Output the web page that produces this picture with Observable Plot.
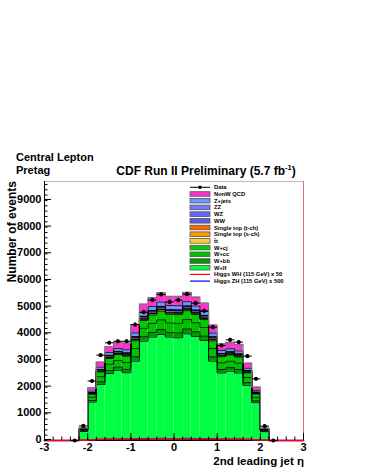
<!DOCTYPE html>
<html><head><meta charset="utf-8">
<script src="https://cdn.jsdelivr.net/npm/d3@7"></script>
<script src="https://cdn.jsdelivr.net/npm/@observablehq/plot@0.6"></script>
<style>body{margin:0;background:#fff} svg{display:block;overflow:visible}</style>
</head><body><div id="chart"></div>
<script>
// ---- data ----
const binCenters = [-2.1,-1.9,-1.7,-1.5,-1.3,-1.1,-0.9,-0.7,-0.5,-0.3,-0.1,0.1,0.3,0.5,0.7,0.9,1.1,1.3,1.5,1.7,1.9,2.1];
const binWidth = 0.2;
const histRange = [-3, 3];

const wlf   = [340,1440,2100,2510,2630,2540,2975,3725,3875,3975,3875,3850,4000,3900,3750,2975,2530,2600,2530,2070,1420,330];
const wbb   = [16,64,101,122,127,133,164,166,178,188,183,186,186,177,168,163,131,130,128,100,70,16];
const wcc   = [30,123,193,233,244,255,314,319,342,360,351,357,357,339,322,312,251,248,246,191,133,31];
const wcj   = [27,112,176,213,223,233,287,291,312,329,320,326,326,310,294,285,229,227,225,174,122,28];
const ttbar = [4,16,25,30,32,33,41,42,45,47,46,47,47,44,42,41,33,32,32,25,17,4];
const stopS = [1,4,6,7,7,8,10,10,10,11,11,11,11,10,10,9,8,8,7,6,4,1];
const stopT = [2,7,11,13,14,14,18,18,19,20,20,20,20,19,18,18,14,14,14,11,8,2];
const ww    = [6,24,38,46,48,50,61,62,67,70,69,70,70,66,63,61,49,49,48,37,26,6];
const wz    = [2,8,13,15,16,17,20,21,22,23,23,23,23,22,21,20,16,16,16,12,9,2];
const zz    = [1,3,4,5,5,6,7,7,7,8,8,8,8,7,7,7,5,5,5,4,3,1];
const zjets = [13,54,84,102,106,111,137,139,149,157,153,155,155,148,140,136,109,108,107,83,58,14];
const qcd   = [28,120,189,229,238,250,306,310,334,352,341,347,347,333,315,303,245,243,242,187,130,30];

const wh50  = [8,30,45,52,55,55,62,68,70,72,70,70,72,70,68,62,55,55,52,45,30,8];
const zh500 = [6,22,33,38,40,40,45,50,52,54,52,52,54,52,50,45,40,40,38,33,22,6];

const dataX = [-2.3,-2.1,-1.9,-1.7,-1.5,-1.3,-1.1,-0.9,-0.7,-0.5,-0.3,-0.1,0.1,0.3,0.5,0.7,0.9,1.1,1.3,1.5,1.7,1.9,2.1,2.3];
const dataY = [0,545,2230,3200,3662,3720,3720,4345,4812,5265,5475,5195,5262,5487,5150,4862,4250,3562,3775,3687,3162,2312,537,0];

const yTicks = [0,1000,2000,3000,4000,5000,6000,7000,8000,9000];
const yMinorTicks = d3.range(0, 9701, 200);
const xTicks = [-3,-2,-1,0,1,2,3];
const xMinorTicks = d3.range(-30, 31, 2).map(d => d / 10);

// stack order bottom -> top
const stackSeries = [
  {name: "W+lf", values: wlf, color: "#00ff44"},
  {name: "W+bb", values: wbb, color: "#009900"},
  {name: "W+cc", values: wcc, color: "#00c000"},
  {name: "W+cj", values: wcj, color: "#00cc00"},
  {name: "t\u0304t", values: ttbar, color: "#ffcc33"},
  {name: "Single top (s-ch)", values: stopS, color: "#ff9900"},
  {name: "Single top (t-ch)", values: stopT, color: "#ff6600"},
  {name: "WW", values: ww, color: "#5a5af0"},
  {name: "WZ", values: wz, color: "#6666ff"},
  {name: "ZZ", values: zz, color: "#7777ff"},
  {name: "Z+jets", values: zjets, color: "#6699ff"},
  {name: "NonW QCD", values: qcd, color: "#ff33cc"}
];
const higgsSeries = [
  {name: "Higgs WH (115 GeV) x 50", values: wh50, color: "#ff0000"},
  {name: "Higgs ZH (115 GeV) x 500", values: zh500, color: "#0000ff"}
];

// ---- build tables ----
const rects = [];
const outlines = [];
const cum = binCenters.map(() => 0);
stackSeries.forEach((s, si) => {
  const tops = [];
  binCenters.forEach((c, i) => {
    const y1 = cum[i], y2 = cum[i] + s.values[i];
    rects.push({x1: c - binWidth/2, x2: c + binWidth/2, y1, y2, fill: s.color});
    cum[i] = y2;
    tops.push(y2);
  });
  const isTop = si === stackSeries.length - 1;
  const first = binCenters[0] - binWidth/2, last = binCenters[binCenters.length-1] + binWidth/2;
  outlines.push({series: s.name, x: first, y: 0, top: isTop});
  binCenters.forEach((c, i) => outlines.push({series: s.name, x: c - binWidth/2, y: tops[i], top: isTop}));
  outlines.push({series: s.name, x: last, y: 0, top: isTop});
});

// Higgs outlines (drawn ZH first so WH red lies on top, as in the reference)
const higgsLines = [];
higgsSeries.slice().reverse().forEach(h => {
  const last = binCenters[binCenters.length-1] + binWidth/2;
  higgsLines.push({series: h.name, x: histRange[0], y: 0, color: h.color});
  binCenters.forEach((c, i) => higgsLines.push({series: h.name, x: c - binWidth/2, y: h.values[i], color: h.color}));
  higgsLines.push({series: h.name, x: last, y: 0, color: h.color});
  higgsLines.push({series: h.name, x: histRange[1], y: 0, color: h.color});
});

const points = dataX.map((x, i) => ({x, y: dataY[i], e: Math.sqrt(dataY[i])}));

const font = "'Liberation Sans', Arial, Helvetica, sans-serif";
const fmt = d => String(d);

const chart = Plot.plot({
  width: 365, height: 473,
  marginLeft: 44, marginRight: 62, marginTop: 181, marginBottom: 33,
  x: {domain: histRange},
  y: {domain: [0, 9710]},
  color: {type: "identity"},
  style: {fontFamily: font, fontWeight: "bold", fontSize: "11px", background: "#fff", color: "#000"},
  marks: [
    Plot.rect(rects, {x1: "x1", x2: "x2", y1: "y1", y2: "y2", fill: "fill"}),
    Plot.line(outlines.filter(d => !d.top), {x: "x", y: "y", z: "series", curve: "step-after", stroke: "#000", strokeWidth: 0.8}),
    Plot.line(outlines.filter(d => d.top), {x: "x", y: "y", z: "series", curve: "step-after", stroke: "#777", strokeWidth: 1.2}),
    Plot.frame({stroke: "#bbb", strokeWidth: 1}),
    Plot.ruleX([histRange[1]], {stroke: "#e07070", strokeWidth: 1}),
    Plot.ruleY([0], {stroke: "#000", strokeWidth: 1}),
    Plot.ruleX([histRange[0]], {stroke: "#000", strokeWidth: 1}),
    Plot.line(higgsLines, {x: "x", y: "y", z: "series", curve: "step-after", stroke: "color", strokeWidth: 1.5}),
    Plot.link(points, {x1: d => d.x - binWidth/2, x2: d => d.x + binWidth/2, y1: "y", y2: "y", stroke: "#000", strokeWidth: 1}),
    Plot.ruleX(points, {x: "x", y1: d => d.y - d.e, y2: d => d.y + d.e, stroke: "#000", strokeWidth: 1}),
    Plot.dot(points, {x: "x", y: "y", r: 2.1, fill: "#000"}),
    Plot.axisY(yTicks, {anchor: "left", tickSize: -7, tickPadding: 10, tickFormat: fmt, label: null, fontSize: 11, fontWeight: "bold", dy: -1}),
    Plot.axisY(yMinorTicks, {anchor: "left", tickSize: -3.5, text: null, label: null}),
    Plot.axisX(xTicks, {anchor: "bottom", tickSize: -7, tickPadding: 10, tickFormat: fmt, label: null, fontSize: 11, fontWeight: "bold"}),
    Plot.axisX(xMinorTicks, {anchor: "bottom", tickSize: -3.5, text: null, label: null})
  ]
});

document.getElementById("chart").appendChild(chart);
const svg = d3.select(chart);

// titles
const t = svg.append("g").attr("font-family", font).attr("font-weight", "bold").attr("fill", "#000").attr("text-anchor", "start");
t.append("text").attr("x", 16).attr("y", 161).attr("font-size", 11).attr("text-anchor", "start").text("Central Lepton");
t.append("text").attr("x", 16).attr("y", 174).attr("font-size", 11).attr("text-anchor", "start").text("Pretag");
const title = t.append("text").attr("x", 206).attr("y", 175).attr("font-size", 12).attr("text-anchor", "middle");
title.append("tspan").text("CDF Run II Preliminary (5.7 fb");
title.append("tspan").attr("font-size", 7.5).attr("dy", -5).text("-1");
title.append("tspan").attr("dy", 5).text(")");
t.append("text").attr("transform", "translate(16,181) rotate(-90)").attr("text-anchor", "end").attr("font-size", 12).text("Number of events");
t.append("text").attr("x", 304).attr("y", 465).attr("text-anchor", "end").attr("font-size", 11.5).text("2nd leading jet \u03B7");

// legend
const legendEntries = [
  {name: "Data", type: "data"},
  ...stackSeries.slice().reverse().map(s => ({name: s.name, type: "box", color: s.color})),
  ...higgsSeries.map(h => ({name: h.name, type: "line", color: h.color}))
];
const lg = svg.append("g").attr("font-family", font).attr("font-weight", "bold").attr("font-size", 5.8).attr("text-anchor", "start");
legendEntries.forEach((e, i) => {
  const yy = 187.3 + i * 6.7;
  if (e.type === "data") {
    lg.append("line").attr("x1", 190).attr("x2", 210).attr("y1", yy).attr("y2", yy).attr("stroke", "#000").attr("stroke-width", 1);
    lg.append("circle").attr("cx", 200).attr("cy", yy).attr("r", 1.8).attr("fill", "#000");
  } else if (e.type === "box") {
    lg.append("rect").attr("x", 190).attr("y", yy - 2.3).attr("width", 20).attr("height", 4.6).attr("fill", e.color).attr("stroke", "#555").attr("stroke-width", 0.8);
  } else {
    lg.append("line").attr("x1", 190).attr("x2", 210).attr("y1", yy).attr("y2", yy).attr("stroke", e.color).attr("stroke-width", 1.2);
  }
  lg.append("text").attr("x", 214).attr("y", yy + 2).attr("text-anchor", "start").text(e.name);
});
</script>
</body></html>
